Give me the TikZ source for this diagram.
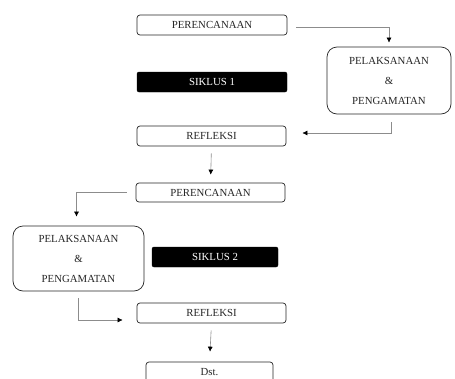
\documentclass[tikz,border=0pt]{standalone}
\usepackage{fontspec}
\setmainfont{Liberation Serif}
\usetikzlibrary{arrows.meta}
\begin{document}
\begin{tikzpicture}[x=1pt,y=-1pt,
  stepbox/.style={draw=black!85,line width=0.7pt,rounded corners=3pt,minimum width=150pt,minimum height=20pt,inner sep=0pt,text=black!85,font=\fontsize{10.8}{13}\selectfont},
  bigbox/.style={draw=black!85,line width=0.7pt,rounded corners=10pt,inner sep=0pt,align=center,text=black!85,font=\fontsize{10.8}{20}\selectfont},
  cyclebox/.style={fill=black,draw=black,rounded corners=2pt,minimum width=150pt,minimum height=20pt,inner sep=0pt,text=white,font=\fontsize{10.8}{13}\selectfont},
  conn/.style={draw=black!45,line width=0.6pt,-{Latex[length=5pt,width=5pt,color=black]}}]
\clip (0,0) rectangle (455,378);
\fill[white] (0,0) rectangle (455,378);
% nodes
\node[stepbox] (p1) at (212,25) {PERENCANAAN};
\node[cyclebox] (s1) at (212,82) {SIKLUS 1};
\node[stepbox,minimum width=149pt] (r1) at (211.5,136) {REFLEKSI};
\node[bigbox,minimum width=124pt,minimum height=67pt] (e1) at (389,80.5) {PELAKSANAAN\\\&\\PENGAMATAN};
\node[stepbox,minimum width=149pt,minimum height=19pt] (p2) at (210.5,192.5) {PERENCANAAN};
\node[bigbox,minimum width=131pt,minimum height=65pt] (e2) at (78.5,258.5) {PELAKSANAAN\\\&\\PENGAMATAN};
\node[cyclebox,minimum width=126pt] (s2) at (215,257) {SIKLUS 2};
\node[stepbox,minimum width=149pt] (r2) at (211.5,313) {REFLEKSI};
\node[stepbox,minimum width=127pt] (d) at (209.5,372) {Dst.};
% connectors
\draw[conn,shorten <=9pt,shorten >=4pt] ([yshift=-2pt]p1.east) -| (e1.north);
\draw[conn,shorten <=8pt,shorten >=16pt] ([xshift=2pt]e1.south) |- ([yshift=3pt]r1.east);
\draw[conn,shorten <=7pt,shorten >=8pt] (r1.south) -- (p2.north);
\draw[conn,shorten <=9pt,shorten >=9pt] (p2.west) -| ([xshift=-2pt]e2.north);
\draw[conn,shorten <=7pt,shorten >=14pt] (e2.south) |- ([yshift=-7pt]r2.west);
\draw[conn,shorten <=7pt,shorten >=10pt] (r2.south) -- (d.north);
\end{tikzpicture}
\end{document}
